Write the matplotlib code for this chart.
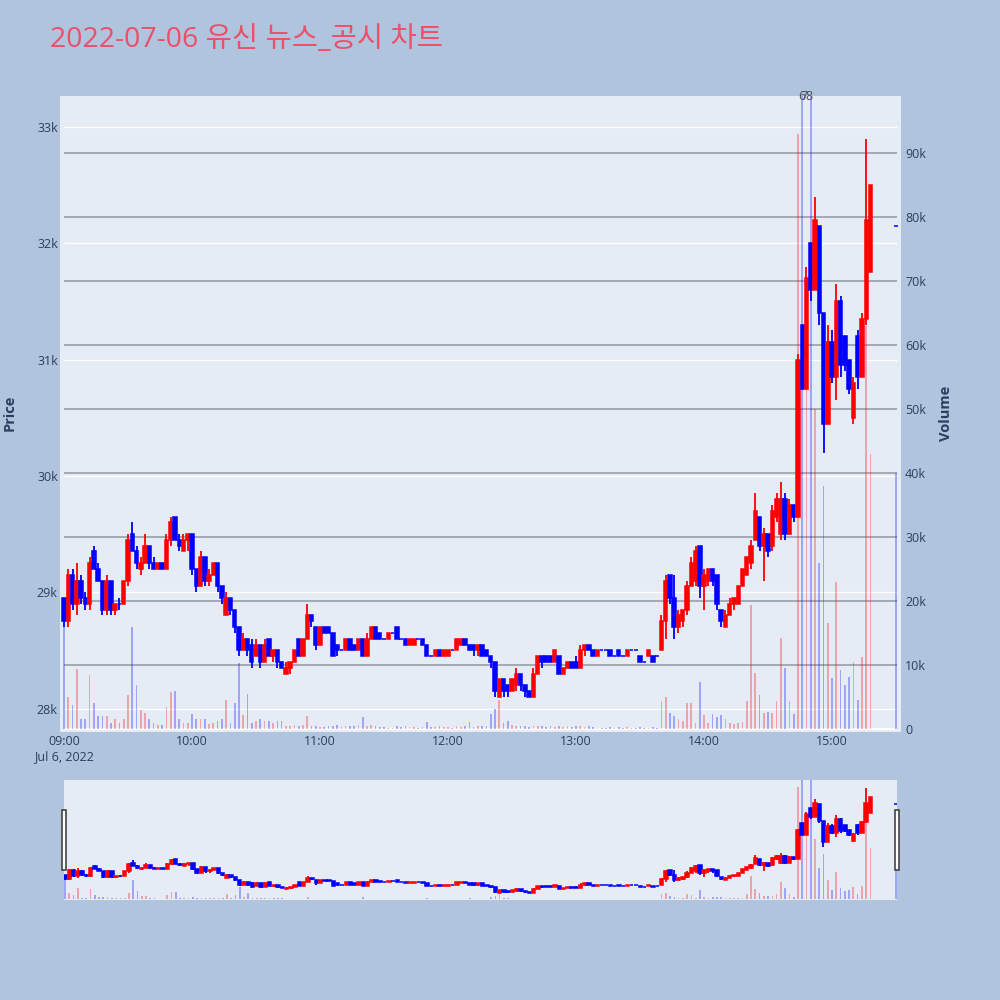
import numpy as np
import matplotlib
matplotlib.use('Agg')
import matplotlib.pyplot as plt
from matplotlib.patches import Rectangle

plt.rcParams['font.family'] = ['Open Sans', 'Noto Sans CJK KR', 'DejaVu Sans']

# minutes after 09:00 (2-minute candles, plus 15:30 closing auction)
minutes = list(range(0, 380, 2)) + [390]

opens = [28950, 28750, 29150, 28900, 29100, 28950, 28900, 29350, 29200, 29100,
         28850, 29100, 28850, 28900, 28900, 29100, 29500, 29350, 29200, 29250,
         29400, 29250, 29200, 29250, 29200, 29450, 29650, 29450, 29350, 29450,
         29500, 29200, 29050, 29300, 29100, 29150, 29250, 29050, 28800, 28950,
         28850, 28700, 28500, 28600, 28550, 28450, 28550, 28400, 28600, 28450,
         28500, 28400, 28300, 28350, 28400, 28600, 28450, 28600, 28800, 28700,
         28550, 28700, 28700, 28650, 28550, 28500, 28500, 28600, 28550, 28500,
         28600, 28450, 28600, 28700, 28650, 28600, 28600, 28650, 28700, 28600,
         28600, 28550, 28550, 28600, 28600, 28550, 28450, 28450, 28500, 28450,
         28450, 28500, 28500, 28550, 28600, 28550, 28550, 28500, 28550, 28500,
         28450, 28400, 28100, 28250, 28200, 28150, 28200, 28300, 28200, 28150,
         28100, 28300, 28450, 28450, 28450, 28400, 28450, 28300, 28350, 28400,
         28400, 28350, 28500, 28550, 28500, 28450, 28500, 28500, 28500, 28450,
         28500, 28450, 28450, 28500, 28500, 28450, 28400, 28450, 28450, 28450,
         28500, 28750, 29150, 28950, 28700, 28750, 28850, 29050, 29100, 29400,
         29050, 29100, 29200, 29150, 28850, 28700, 28800, 28900, 28900, 29050,
         29150, 29250, 29450, 29650, 29400, 29500, 29400, 29650, 29500, 29800,
         29500, 29750, 29650, 31300, 30750, 32000, 31600, 32150, 31400, 30450,
         31150, 30850, 31500, 31200, 31000, 30500, 31200, 30850, 31350, 31750,
         32150]

highs = [28950, 29200, 29200, 29250, 29150, 29000, 29300, 29400, 29250, 29100,
         29150, 29100, 28900, 28950, 29100, 29500, 29600, 29400, 29300, 29500,
         29400, 29300, 29250, 29250, 29500, 29650, 29650, 29500, 29500, 29500,
         29500, 29200, 29350, 29300, 29200, 29250, 29250, 29050, 29000, 28950,
         28850, 28700, 28650, 28600, 28600, 28600, 28550, 28600, 28600, 28500,
         28500, 28400, 28400, 28400, 28500, 28600, 28600, 28900, 28800, 28700,
         28700, 28700, 28700, 28650, 28550, 28500, 28600, 28600, 28550, 28600,
         28600, 28650, 28700, 28700, 28650, 28600, 28650, 28650, 28700, 28600,
         28600, 28600, 28600, 28600, 28600, 28550, 28450, 28500, 28500, 28500,
         28500, 28500, 28600, 28600, 28600, 28550, 28550, 28550, 28550, 28500,
         28450, 28400, 28250, 28250, 28200, 28250, 28350, 28300, 28200, 28150,
         28350, 28450, 28450, 28450, 28450, 28500, 28450, 28350, 28400, 28400,
         28450, 28550, 28550, 28550, 28500, 28500, 28500, 28500, 28500, 28450,
         28500, 28450, 28500, 28500, 28500, 28450, 28400, 28500, 28450, 28450,
         28800, 29150, 29150, 29150, 28850, 28850, 29100, 29300, 29400, 29400,
         29200, 29200, 29200, 29150, 28850, 28850, 28950, 28950, 29050, 29200,
         29300, 29450, 29850, 29650, 29550, 29500, 29750, 29850, 29950, 29850,
         29800, 29750, 31050, 31300, 31800, 32000, 32400, 32150, 31400, 31300,
         31250, 31650, 31550, 31200, 31000, 30850, 31250, 31400, 32900, 32500,
         32150]

lows = [28700, 28700, 28850, 28800, 28900, 28850, 28850, 29200, 29100, 28800,
        28800, 28800, 28800, 28850, 28900, 29050, 29350, 29200, 29150, 29250,
        29200, 29200, 29200, 29200, 29200, 29400, 29450, 29350, 29350, 29350,
        29150, 29000, 29050, 29050, 29050, 29150, 29000, 28900, 28800, 28800,
        28650, 28450, 28500, 28450, 28350, 28450, 28350, 28400, 28450, 28400,
        28350, 28350, 28300, 28300, 28400, 28450, 28450, 28600, 28700, 28500,
        28550, 28650, 28650, 28450, 28450, 28500, 28500, 28500, 28500, 28500,
        28450, 28450, 28600, 28600, 28600, 28600, 28600, 28650, 28600, 28600,
        28550, 28550, 28550, 28600, 28550, 28450, 28450, 28450, 28450, 28450,
        28450, 28500, 28500, 28550, 28550, 28500, 28450, 28450, 28450, 28450,
        28350, 28100, 28100, 28100, 28100, 28150, 28150, 28150, 28100, 28100,
        28100, 28300, 28350, 28400, 28400, 28400, 28300, 28300, 28350, 28350,
        28350, 28350, 28450, 28500, 28450, 28450, 28500, 28500, 28450, 28450,
        28450, 28450, 28450, 28500, 28500, 28400, 28400, 28450, 28400, 28450,
        28500, 28600, 28900, 28600, 28650, 28700, 28800, 29050, 29050, 28950,
        28850, 29050, 29050, 28850, 28700, 28700, 28800, 28850, 28900, 29050,
        29150, 29200, 29450, 29350, 29100, 29300, 29350, 29600, 29450, 29450,
        29500, 29600, 29650, 30750, 30750, 31500, 31600, 31300, 30200, 30450,
        30800, 30650, 30850, 30900, 30700, 30450, 30750, 30850, 31300, 31750,
        32150]

closes = [28750, 29150, 28900, 29100, 28950, 28900, 29250, 29200, 29100, 28850,
          29100, 28850, 28900, 28900, 29100, 29450, 29350, 29250, 29250, 29400,
          29250, 29200, 29250, 29200, 29450, 29600, 29450, 29400, 29450, 29500,
          29200, 29050, 29300, 29100, 29150, 29250, 29050, 28950, 28950, 28850,
          28700, 28500, 28600, 28500, 28400, 28550, 28400, 28550, 28450, 28500,
          28400, 28350, 28350, 28400, 28500, 28450, 28600, 28800, 28750, 28550,
          28700, 28650, 28650, 28450, 28500, 28500, 28600, 28500, 28500, 28600,
          28450, 28600, 28700, 28600, 28600, 28600, 28650, 28650, 28600, 28600,
          28550, 28600, 28600, 28600, 28550, 28450, 28450, 28500, 28450, 28500,
          28500, 28500, 28600, 28600, 28550, 28500, 28500, 28550, 28450, 28450,
          28400, 28150, 28250, 28150, 28150, 28250, 28300, 28200, 28150, 28100,
          28300, 28450, 28400, 28400, 28400, 28500, 28300, 28350, 28400, 28350,
          28350, 28500, 28550, 28500, 28450, 28500, 28500, 28500, 28450, 28450,
          28450, 28450, 28500, 28500, 28500, 28400, 28400, 28500, 28400, 28450,
          28750, 29100, 28950, 28700, 28800, 28850, 29050, 29250, 29350, 29050,
          29150, 29200, 29100, 28900, 28750, 28800, 28900, 28950, 29050, 29200,
          29300, 29400, 29700, 29400, 29500, 29350, 29700, 29800, 29800, 29500,
          29750, 29650, 31000, 30750, 31700, 31600, 32200, 31400, 30450, 31150,
          30850, 31500, 30950, 30950, 30750, 30800, 30850, 31350, 32200, 32500,
          32150]

# volume in thousands of shares
volumes_k = [16, 5, 3.7, 9.3, 1.5, 1.5, 8.5, 4, 2, 2,
             2, 1, 1.5, 1, 1.5, 5.3, 16, 6.9, 3, 2.5,
             1.5, 1, 0.7, 0.7, 3.5, 5.8, 6, 1.5, 1, 1,
             2.4, 1.5, 1.5, 1.5, 0.8, 1, 1.2, 1.5, 4.6, 1,
             4, 10.3, 2.2, 5.4, 1, 1.2, 1.5, 1.3, 1.2, 1,
             1.2, 1.2, 0.5, 0.5, 0.6, 0.5, 0.6, 2, 0.5, 0.4,
             0.3, 0.3, 0.4, 0.5, 0.6, 0.3, 0.4, 0.5, 0.4, 0.6,
             1.9, 0.5, 0.6, 0.4, 0.3, 0.3, 0.2, 0.2, 0.5, 0.3,
             0.4, 0.3, 0.3, 0.2, 0.3, 1.1, 0.3, 0.3, 0.4, 0.3,
             0.3, 0.2, 0.5, 0.3, 0.4, 1.1, 0.3, 0.4, 0.5, 0.4,
             2.4, 3.2, 4.5, 1, 1.2, 0.6, 0.5, 0.4, 0.5, 0.3,
             0.5, 0.4, 0.5, 0.3, 0.4, 0.3, 0.5, 0.3, 0.4, 0.3,
             0.5, 0.4, 0.3, 0.5, 0.3, 0.2, 0.2, 0.2, 0.3, 0.2,
             0.3, 0.2, 0.3, 0.2, 0.2, 0.3, 0.2, 0.2, 0.3, 0.2,
             4.3, 5, 2.5, 2, 1.5, 1.2, 4.1, 4, 1, 7.4,
             2.2, 0.9, 2.4, 1.9, 2.2, 1.5, 1, 0.8, 1, 1.1,
             4.3, 19.4, 8.7, 5.3, 2.5, 2.7, 2.5, 4.3, 14.2, 9.5,
             4.3, 2.4, 93, 110, 54, 110, 50, 26, 38, 16.5,
             8, 23, 9.2, 6.9, 8.2, 10.5, 4.5, 11.3, 63, 43,
             40]

price_ticks = [28000, 29000, 30000, 31000, 32000, 33000]
price_labels = ['28k', '29k', '30k', '31k', '32k', '33k']
vol_ticks = [0, 10, 20, 30, 40, 50, 60, 70, 80, 90]
vol_labels = ['0', '10k', '20k', '30k', '40k', '50k', '60k', '70k', '80k', '90k']
time_ticks = [0, 60, 120, 180, 240, 300, 360]
time_labels = ['09:00\nJul 6, 2022', '10:00', '11:00', '12:00', '13:00', '14:00', '15:00']
news_marks = ['6', '7', '8']

title = '2022-07-06 유신 뉴스_공시 차트'

BG = '#B0C4DE'
PLOT_BG = '#E5ECF6'
INC = '#FF0000'
DEC = '#0000FF'
TXT = '#2a3f5f'

m = np.array(minutes, dtype=float)
o = np.array(opens, dtype=float)
h = np.array(highs, dtype=float)
l = np.array(lows, dtype=float)
c = np.array(closes, dtype=float)
v = np.array(volumes_k, dtype=float)
cols = np.where(c > o, INC, DEC)

PMIN, PMAX = 27798, 33266
VMIN, VMAX = -0.47, 98.9


def draw(ax_v, ax_p):
    ax_v.bar(m, v, width=0.8, color=cols, alpha=0.3, linewidth=0, zorder=2)
    ax_p.vlines(m, l, h, colors=cols, linewidth=1.3, zorder=3)
    ax_p.bar(m, c - o, bottom=o, width=1.6, color=cols, edgecolor=cols,
             linewidth=1.1, zorder=4)
    ax_v.set_ylim(VMIN, VMAX)
    ax_p.set_ylim(PMIN, PMAX)


def p2v(p):
    return VMIN + (p - PMIN) / (PMAX - PMIN) * (VMAX - VMIN)


fig = plt.figure(figsize=(10, 10), dpi=100, facecolor=BG)

# main chart
ax = fig.add_axes([0.060, 0.268, 0.841, 0.636])
ax.set_facecolor(PLOT_BG)
axp = ax.twinx()
draw(ax, axp)
ax.set_xlim(-1.875, 392.3)

x0, x1 = 0, 390.5
for pt in price_ticks:
    ax.hlines(p2v(pt), x0, x1, color='white', linewidth=1.0, zorder=0.5)
for vt in vol_ticks[1:]:
    ax.hlines(vt, x0, x1, color='#a0a4ac', linewidth=1.3, zorder=0.6)
ax.hlines(0, x0, x1, color='white', linewidth=1.6, zorder=0.7)

for a in (ax, axp):
    for s in a.spines.values():
        s.set_visible(False)
    a.tick_params(length=0, colors=TXT, labelsize=9)

ax.yaxis.tick_right()
ax.set_yticks(vol_ticks)
ax.set_yticklabels(vol_labels)
ax.tick_params(axis='y', pad=3)
ax.set_xticks(time_ticks)
ax.set_xticklabels(time_labels)
ax.tick_params(axis='x', pad=2)

axp.yaxis.set_ticks_position('left')
axp.yaxis.set_label_position('left')
axp.set_yticks(price_ticks)
axp.set_yticklabels(price_labels)
axp.tick_params(axis='y', pad=1.5, left=False, right=False,
                labelleft=True, labelright=False)

fig.text(0.010, 0.587, 'Price', rotation=90, ha='center', va='center',
         color=TXT, fontsize=10.5, fontweight='bold')
fig.text(0.946, 0.587, 'Volume', rotation=90, ha='center', va='center',
         color=TXT, fontsize=10.5, fontweight='bold')

# news markers sit on top of each other, as in the original
for xpix, mark in zip([801.5, 804.5, 808.5], news_marks):
    fig.text(xpix / 1000, 1 - 96 / 1000, mark, ha='center', va='center',
             color='#4a5060', fontsize=9)

fig.text(0.050, 1 - 0.040, title, ha='left', va='center',
         color='#EC4F68', fontsize=20.5)

# range slider
axs = fig.add_axes([0.064, 0.100, 0.833, 0.120])
axs.set_facecolor(PLOT_BG)
axs2 = axs.twinx()
draw(axs, axs2)
axs.set_xlim(-0.47, 390.5)
for a in (axs, axs2):
    for s in a.spines.values():
        s.set_visible(False)
    a.set_xticks([])
    a.set_yticks([])

for xpix in (61.5, 895.3):
    fig.add_artist(Rectangle((xpix / 1000, 1 - 870 / 1000), 4 / 1000, 60 / 1000,
                             transform=fig.transFigure, facecolor='white',
                             edgecolor='#444444', linewidth=1.2))

fig.savefig('out.png', dpi=100, facecolor=BG)
